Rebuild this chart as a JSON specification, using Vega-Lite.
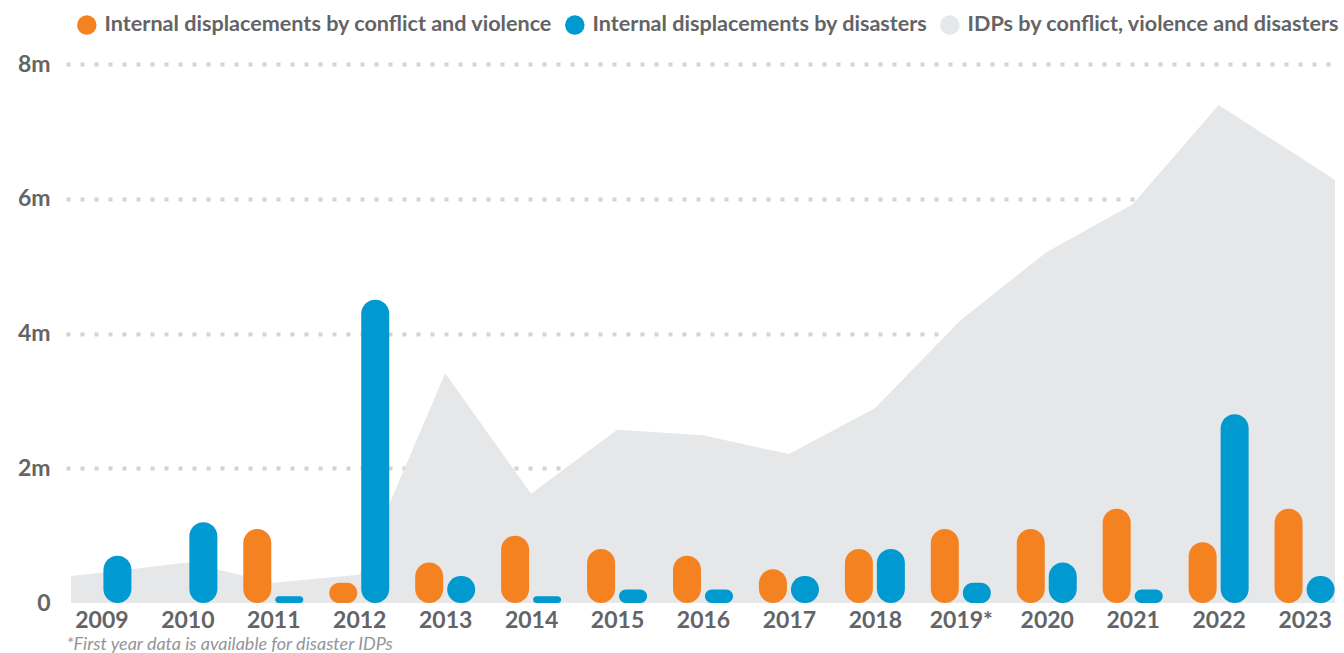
{
  "$schema": "https://vega.github.io/schema/vega-lite/v6.json",
  "autosize": {"type": "none"},
  "width": 1274,
  "height": 539,
  "padding": {"left": 66, "top": 64, "right": 4, "bottom": 50},
  "background": "white",
  "config": {
    "view": {"stroke": null},
    "font": "Lato"
  },
  "datasets": {
    "bars": [
      {"year": 2009, "series": "Internal displacements by conflict and violence", "value": 0},
      {"year": 2010, "series": "Internal displacements by conflict and violence", "value": 0},
      {"year": 2011, "series": "Internal displacements by conflict and violence", "value": 1.1},
      {"year": 2012, "series": "Internal displacements by conflict and violence", "value": 0.3},
      {"year": 2013, "series": "Internal displacements by conflict and violence", "value": 0.6},
      {"year": 2014, "series": "Internal displacements by conflict and violence", "value": 1.0},
      {"year": 2015, "series": "Internal displacements by conflict and violence", "value": 0.8},
      {"year": 2016, "series": "Internal displacements by conflict and violence", "value": 0.7},
      {"year": 2017, "series": "Internal displacements by conflict and violence", "value": 0.5},
      {"year": 2018, "series": "Internal displacements by conflict and violence", "value": 0.8},
      {"year": 2019, "series": "Internal displacements by conflict and violence", "value": 1.1},
      {"year": 2020, "series": "Internal displacements by conflict and violence", "value": 1.1},
      {"year": 2021, "series": "Internal displacements by conflict and violence", "value": 1.4},
      {"year": 2022, "series": "Internal displacements by conflict and violence", "value": 0.9},
      {"year": 2023, "series": "Internal displacements by conflict and violence", "value": 1.4},
      {"year": 2009, "series": "Internal displacements by disasters", "value": 0.7},
      {"year": 2010, "series": "Internal displacements by disasters", "value": 1.2},
      {"year": 2011, "series": "Internal displacements by disasters", "value": 0.1},
      {"year": 2012, "series": "Internal displacements by disasters", "value": 4.5},
      {"year": 2013, "series": "Internal displacements by disasters", "value": 0.4},
      {"year": 2014, "series": "Internal displacements by disasters", "value": 0.1},
      {"year": 2015, "series": "Internal displacements by disasters", "value": 0.2},
      {"year": 2016, "series": "Internal displacements by disasters", "value": 0.2},
      {"year": 2017, "series": "Internal displacements by disasters", "value": 0.4},
      {"year": 2018, "series": "Internal displacements by disasters", "value": 0.8},
      {"year": 2019, "series": "Internal displacements by disasters", "value": 0.3},
      {"year": 2020, "series": "Internal displacements by disasters", "value": 0.6},
      {"year": 2021, "series": "Internal displacements by disasters", "value": 0.2},
      {"year": 2022, "series": "Internal displacements by disasters", "value": 2.8},
      {"year": 2023, "series": "Internal displacements by disasters", "value": 0.4}
    ],
    "idps": [
      {"year": 2008.646, "series": "IDPs by conflict, violence and disasters", "value": 0.4},
      {"year": 2009, "series": "IDPs by conflict, violence and disasters", "value": 0.45},
      {"year": 2010, "series": "IDPs by conflict, violence and disasters", "value": 0.6},
      {"year": 2011, "series": "IDPs by conflict, violence and disasters", "value": 0.3},
      {"year": 2012, "series": "IDPs by conflict, violence and disasters", "value": 0.42},
      {"year": 2013, "series": "IDPs by conflict, violence and disasters", "value": 3.41},
      {"year": 2014, "series": "IDPs by conflict, violence and disasters", "value": 1.62},
      {"year": 2015, "series": "IDPs by conflict, violence and disasters", "value": 2.57},
      {"year": 2016, "series": "IDPs by conflict, violence and disasters", "value": 2.49},
      {"year": 2017, "series": "IDPs by conflict, violence and disasters", "value": 2.21},
      {"year": 2018, "series": "IDPs by conflict, violence and disasters", "value": 2.89},
      {"year": 2019, "series": "IDPs by conflict, violence and disasters", "value": 4.2},
      {"year": 2020, "series": "IDPs by conflict, violence and disasters", "value": 5.21},
      {"year": 2021, "series": "IDPs by conflict, violence and disasters", "value": 5.92},
      {"year": 2022, "series": "IDPs by conflict, violence and disasters", "value": 7.39},
      {"year": 2023, "series": "IDPs by conflict, violence and disasters", "value": 6.57},
      {"year": 2023.354, "series": "IDPs by conflict, violence and disasters", "value": 6.28}
    ]
  },
  "encoding": {
    "x": {
      "field": "year",
      "type": "quantitative",
      "scale": {"domain": [2008.646, 2023.354], "nice": false, "zero": false},
      "axis": {
        "values": [2009, 2010, 2011, 2012, 2013, 2014, 2015, 2016, 2017, 2018, 2019, 2020, 2021, 2022, 2023],
        "labelExpr": "datum.value == 2019 ? '2019*' : format(datum.value, 'd')",
        "labelFont": "Lato",
        "labelFontWeight": "bold",
        "labelFontSize": 23,
        "labelColor": "#636466",
        "labelPadding": 6,
        "labelFlush": false,
        "labelOverlap": false,
        "grid": false,
        "domain": false,
        "ticks": false,
        "title": "*First year data is available for disaster IDPs",
        "titleFont": "Lato",
        "titleFontStyle": "italic",
        "titleFontWeight": "normal",
        "titleFontSize": 18,
        "titleColor": "#939598",
        "titleAnchor": "start",
        "titleAlign": "left",
        "titlePadding": 3
      }
    },
    "y": {
      "field": "value",
      "type": "quantitative",
      "stack": null,
      "scale": {"domain": [0, 8], "nice": false},
      "axis": {
        "values": [0, 2, 4, 6, 8],
        "labelExpr": "datum.value == 0 ? '0' : datum.value + 'm'",
        "labelFont": "Lato",
        "labelFontWeight": "bold",
        "labelFontSize": 23,
        "labelColor": "#636466",
        "labelPadding": 16,
        "domain": false,
        "ticks": false,
        "title": null,
        "grid": true,
        "gridColor": "#d1d3d4",
        "gridWidth": 4,
        "gridDash": [4, 10],
        "gridOpacity": {"condition": {"test": "datum.value === 0", "value": 0}, "value": 1}
      }
    },
    "color": {
      "field": "series",
      "type": "nominal",
      "scale": {
        "domain": ["Internal displacements by conflict and violence", "Internal displacements by disasters", "IDPs by conflict, violence and disasters"],
        "range": ["#f58220", "#0099d0", "#e6e7e8"]
      },
      "legend": {
        "orient": "none",
        "legendX": 10,
        "legendY": -50,
        "direction": "horizontal",
        "title": null,
        "symbolType": "circle",
        "symbolSize": 380,
        "symbolStrokeWidth": 0,
        "symbolOpacity": 1,
        "labelFont": "Lato",
        "labelFontWeight": "bold",
        "labelFontSize": 21.6,
        "labelColor": "#636466",
        "labelOffset": 7,
        "columnPadding": 11,
        "labelLimit": 600
      }
    }
  },
  "layer": [
    {
      "data": {"name": "idps"},
      "mark": {"type": "area", "interpolate": "linear", "opacity": 1, "clip": true}
    },
    {
      "data": {"name": "bars"},
      "transform": [{"filter": "datum.series === 'Internal displacements by conflict and violence'"}],
      "mark": {"type": "bar", "orient": "vertical", "width": 28, "cornerRadius": 14, "xOffset": -16}
    },
    {
      "data": {"name": "bars"},
      "transform": [{"filter": "datum.series === 'Internal displacements by disasters'"}],
      "mark": {"type": "bar", "orient": "vertical", "width": 28, "cornerRadius": 14, "xOffset": 16}
    }
  ]
}
